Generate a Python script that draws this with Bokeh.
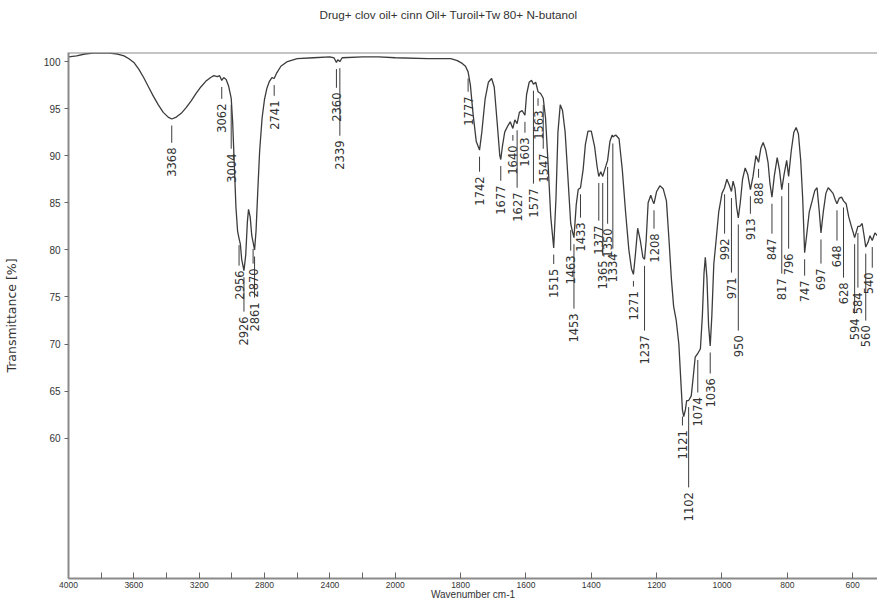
import numpy as np
from bokeh.plotting import figure
from bokeh.models import Range1d, FixedTicker, Span
from bokeh.core.properties import value
from bokeh.embed import file_html
from bokeh.resources import INLINE

title_text = "Drug+ clov oil+ cinn Oil+ Turoil+Tw 80+ N-butanol"
x_label = "Wavenumber cm-1"
y_label = "Transmittance [%]"

wavenumber = [
    4000, 3950, 3900, 3850, 3800, 3750, 3700, 3660, 3630, 3600, 3570, 3540, 3510, 3480,
    3450, 3420, 3390, 3368, 3340, 3310, 3280, 3250, 3220, 3190, 3160, 3130, 3110, 3090,
    3075, 3062, 3050, 3035, 3020, 3010, 3004, 2995, 2985, 2975, 2965, 2956, 2948, 2940,
    2926, 2915, 2905, 2898, 2888, 2878, 2870, 2861, 2852, 2842, 2830, 2815, 2800, 2785,
    2770, 2755, 2741, 2725, 2700, 2660, 2600, 2500, 2400, 2375, 2360, 2352, 2339, 2325,
    2200, 2100, 2000, 1900, 1830, 1810, 1795, 1785, 1777, 1770, 1762, 1752, 1742, 1735,
    1725, 1715, 1705, 1697, 1688, 1680, 1677, 1672, 1665, 1655, 1648, 1640, 1634, 1627,
    1620, 1612, 1603, 1598, 1590, 1583, 1577, 1570, 1563, 1555, 1547, 1540, 1532, 1524,
    1515, 1508, 1502, 1495, 1488, 1480, 1472, 1463, 1458, 1453, 1446, 1440, 1433, 1425,
    1418, 1410, 1400, 1390, 1382, 1377, 1371, 1365, 1358, 1350, 1343, 1336, 1334, 1325,
    1315, 1305, 1295, 1285, 1277, 1271, 1265, 1258, 1250, 1242, 1237, 1232, 1226, 1218,
    1212, 1208, 1200, 1190, 1180, 1170, 1162, 1155, 1148, 1140, 1132, 1125, 1121, 1117,
    1112, 1108, 1102, 1094, 1088, 1082, 1074, 1066, 1060, 1055, 1051, 1046, 1041, 1036,
    1031, 1025, 1018, 1010, 1000, 992, 985, 977, 971, 966, 960, 955, 950, 944,
    937, 929, 921, 913, 905, 896, 888, 881, 874, 866, 859, 853, 847, 840,
    831, 824, 817, 810, 802, 796, 788, 780, 773, 766, 759, 753, 747, 741,
    733, 724, 716, 709, 702, 697, 690, 682, 675, 667, 660, 653, 648, 641,
    634, 628, 620, 612, 604, 598, 594, 588, 584, 578, 571, 565, 560, 553,
    547, 540, 532, 524,
]
transmittance = [
    100.5, 100.6, 100.8, 100.9, 100.9, 100.9, 100.8, 100.6, 100.3, 99.9, 99.2, 98.3, 97.3, 96.3,
    95.4, 94.6, 94.1, 93.9, 94.1, 94.5, 95.1, 95.8, 96.6, 97.3, 97.9, 98.3, 98.5, 98.4,
    98.5, 98.0, 98.3, 98.1, 97.4, 96.6, 96.1, 93.5, 89.0, 84.5, 82.0, 81.2, 80.6, 79.0,
    77.8, 79.5, 83.0, 84.3, 83.5, 81.5, 80.8, 80.0, 82.0, 86.0, 90.5, 94.0, 96.0, 97.2,
    97.9, 98.3, 98.2, 98.8, 99.5, 100.0, 100.3, 100.4, 100.5, 100.4, 99.9, 100.2, 100.0, 100.4,
    100.5, 100.5, 100.4, 100.3, 100.3, 100.1, 99.8, 99.5, 98.9, 97.5, 94.5, 91.5, 90.6, 92.5,
    96.0, 97.8, 98.2, 97.3, 93.5, 90.0, 89.6, 91.0, 92.5, 93.2, 93.6, 92.9, 93.8, 93.4,
    94.6, 94.8, 94.3, 96.5, 97.8, 98.0, 97.6, 97.8, 96.8, 96.6, 96.1, 94.0, 89.0, 83.5,
    80.2, 85.5, 92.5, 95.4, 94.8, 92.5, 88.0, 82.8, 82.0, 81.3, 84.8, 86.4, 86.6, 88.5,
    91.2, 92.6, 92.6, 91.0, 88.8, 87.8, 88.3, 87.8, 88.6, 89.5, 91.5, 92.2, 92.0, 92.2,
    91.8, 88.5, 84.0, 80.0, 78.0, 77.4, 79.5, 82.3, 81.0, 79.2, 79.0, 81.0, 85.0, 85.8,
    85.2, 84.9, 86.2, 86.8, 86.5, 85.2, 81.0, 77.0, 74.0, 72.5, 70.0, 65.5, 63.0, 62.3,
    63.0, 64.0, 64.0, 64.5, 66.5, 68.6, 69.0, 69.5, 73.0, 77.5, 79.2, 77.0, 72.0, 69.8,
    73.0, 78.5, 81.0, 84.0, 86.0, 86.6, 87.5, 86.8, 86.2, 87.3, 86.5, 84.5, 83.4, 85.0,
    87.5, 88.7, 88.0, 86.4, 87.8, 90.0, 89.3, 90.8, 91.4, 90.6, 89.3, 87.0, 85.6, 87.8,
    89.8, 88.5, 86.4, 88.0, 89.5, 87.8, 90.5, 92.5, 93.0, 92.3, 89.5, 85.5, 79.7, 81.5,
    84.0, 85.2, 86.3, 86.6, 84.0, 81.8, 84.0, 86.0, 86.6, 86.3, 86.0, 85.3, 84.9, 85.5,
    85.6, 85.2, 84.9, 83.5, 82.5, 81.8, 81.3, 82.0, 82.5, 82.5, 82.8, 81.5, 80.3, 80.8,
    81.5, 81.0, 81.8, 81.5,
]

peak_wn = [
    3368, 3062, 3004, 2956, 2926, 2870, 2861, 2741, 2360, 2339, 1777, 1742, 1677, 1640,
    1627, 1603, 1577, 1563, 1547, 1515, 1463, 1453, 1433, 1377, 1365, 1350, 1334, 1271,
    1237, 1208, 1121, 1102, 1074, 1036, 992, 971, 950, 913, 888, 847, 817, 796, 747, 697,
    648, 628, 594, 584, 560, 540,
]
peak_text = [str(w) for w in peak_wn]

y_ticks = [60, 65, 70, 75, 80, 85, 90, 95, 100]
x_ticks = list(range(4000, 599, -200))
x_labelled = [4000, 3600, 3200, 2800, 2400, 2000, 1800, 1600, 1400, 1200, 1000, 800, 600]

# --- layout of the peak annotations (transmittance at which each label text starts) ---
label_top = [
    90.87, 95.54, 90.24, 77.82, 72.94, 78.04, 74.43, 95.86, 96.71, 91.62, 96.29, 87.80, 86.84, 91.09,
    86.10, 91.94, 86.53, 94.80, 90.24, 78.0, 79.42, 73.26, 82.92, 82.60, 78.89, 82.28, 79.63, 75.6,
    70.93, 81.75, 60.85, 54.27, 64.35, 66.37, 81.22, 77.08, 70.93, 83.34, 87.16, 81.22, 76.98, 79.63,
    76.76, 78.04, 80.48, 76.55, 72.73, 75.49, 71.99, 77.61,
]
# horizontal nudge (px) so that the last label stays inside the picture
label_dx = [0] * (len(peak_wn) - 1) + [-4]


def tx(w):
    """Broken wavenumber axis: region above 2000 cm-1 is drawn at half scale."""
    w = np.asarray(w, dtype=float)
    return np.where(w > 2000, 2000 + (w - 2000) / 2.0, w)


FONT = "Liberation Sans"
WIDE = "DejaVu Sans"
INK = "#333333"

X0, X1 = float(tx(4000)), 524.0
Y0, Y1 = 45.1, 100.96

p = figure(
    width=877, height=602, output_backend="svg", toolbar_location=None,
    x_range=Range1d(X0, X1), y_range=Range1d(Y0, Y1),
    min_border_left=67, min_border_right=0, min_border_top=52, min_border_bottom=24,
    title=title_text + "\n\n",
)
p.background_fill_color = "white"
p.border_fill_color = "white"
p.outline_line_color = None
p.grid.visible = False

p.title.align = "left"
p.title.offset = 251
p.title.vertical_align = "top"
p.title.standoff = 8
p.title.text_font = FONT
p.title.text_font_style = "normal"
p.title.text_font_size = "11.7px"
p.title.text_color = INK

# top frame line
p.add_layout(Span(location=Y1, dimension="width", line_color="#8a8a8a", line_width=2))

# spectrum
order = np.argsort(wavenumber)
wn_sorted = np.asarray(wavenumber, float)[order]
tr_sorted = np.asarray(transmittance, float)[order]
p.line(tx(wavenumber), transmittance, line_color="#3c3c3c", line_width=1.3)

# peak annotations
peak_T = np.interp(peak_wn, wn_sorted, tr_sorted)
px = tx(peak_wn)
top = np.asarray(label_top)
p.segment(x0=px, y0=peak_T - 0.7, x1=px, y1=top + 0.5, line_color="#3c3c3c", line_width=1)
p.text(x=px, y=top, text=peak_text, angle=np.pi / 2, text_align="right",
       text_baseline="middle", text_font=value(WIDE), text_font_size="11.5px",
       text_color=INK, x_offset=label_dx)

# axes
xa = p.xaxis[0]
xa.ticker = FixedTicker(ticks=[int(v) for v in tx(x_ticks)])
xa.major_label_overrides = {
    int(tx(w)): (str(w) if w in x_labelled else "") for w in x_ticks
}
xa.minor_tick_line_color = None
xa.major_tick_in = 6
xa.major_tick_out = 0
xa.axis_line_color = "#8a8a8a"
xa.axis_line_width = 2
xa.major_tick_line_color = "#666666"
xa.major_label_text_font = FONT
xa.major_label_text_font_size = "8.5px"
xa.major_label_text_color = INK
xa.major_label_standoff = 3
xa.axis_label = x_label
xa.axis_label_text_font = FONT
xa.axis_label_text_font_style = "normal"
xa.axis_label_text_font_size = "10px"
xa.axis_label_text_color = INK
xa.axis_label_standoff = -2

ya = p.yaxis[0]
ya.ticker = FixedTicker(ticks=y_ticks)
ya.minor_tick_line_color = None
ya.major_tick_in = 0
ya.major_tick_out = 4
ya.axis_line_color = "#8a8a8a"
ya.axis_line_width = 2
ya.major_tick_line_color = "#666666"
ya.major_label_text_font = FONT
ya.major_label_text_font_size = "10px"
ya.major_label_text_color = INK
ya.major_label_standoff = 4
ya.axis_label = y_label
ya.axis_label_text_font = WIDE
ya.axis_label_text_font_style = "normal"
ya.axis_label_text_font_size = "12.5px"
ya.axis_label_text_color = INK
ya.axis_label_standoff = 22

open("out.html", "w").write(file_html(p, INLINE))
